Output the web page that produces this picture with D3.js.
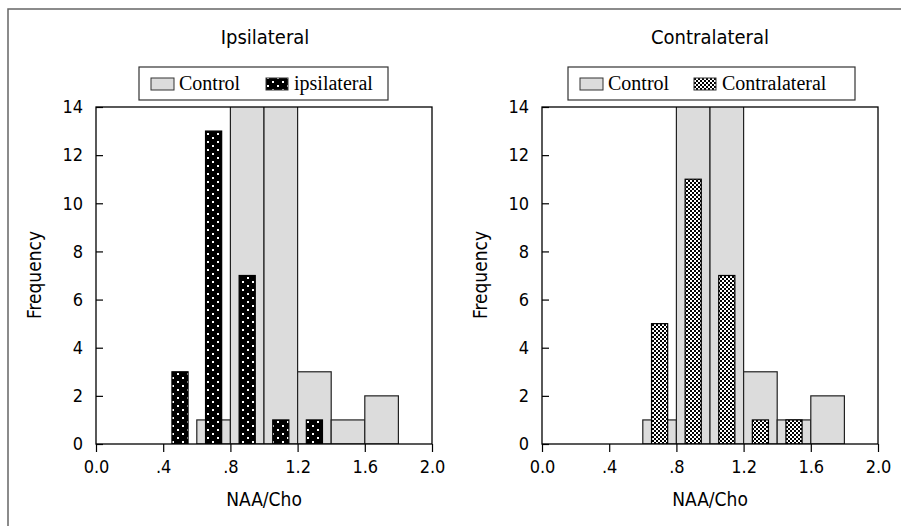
<style>
  body { margin: 0; }
</style>
<script src="https://d3js.org/d3.v7.min.js"></script>

<svg width = 901 height = 526></svg>

<script>

  // Bin edges (NAA/Cho) and control counts, same in both panels
  const controlBins = [0.6, 0.8, 1.0, 1.2, 1.4, 1.6];
  const controlCounts = [1, 16, 16, 3, 1, 2];

  // Patient bars (bar centres and counts)
  const ipsiCenters = [0.5, 0.7, 0.9, 1.1, 1.3];
  const ipsiCounts = [3, 13, 7, 1, 1];
  const contraCenters = [0.7, 0.9, 1.1, 1.3, 1.5];
  const contraCounts = [5, 11, 7, 1, 1];

  const xTicks = [0, 0.4, 0.8, 1.2, 1.6, 2.0];
  const xTickLabels = ['0.0', '.4', '.8', '1.2', '1.6', '2.0'];
  const yTicks = [0, 2, 4, 6, 8, 10, 12, 14];

  const sansFont = '"DejaVu Sans Condensed", "Liberation Sans Narrow", sans-serif';
  const serifFont = '"Liberation Serif", "DejaVu Serif", serif';

  const svg = d3.select('svg');

  svg.append('rect')
    .attr('width', 901)
    .attr('height', 526)
    .style('fill', 'white');

  // patterns
  const defs = svg.append('defs');

  const dots = defs.append('pattern')
    .attr('id', 'dots')
    .attr('patternUnits', 'userSpaceOnUse')
    .attr('width', 10)
    .attr('height', 8);
  dots.append('rect').attr('width', 10).attr('height', 8).style('fill', 'black');
  dots.append('rect').attr('x', 2).attr('y', 1).attr('width', 2).attr('height', 2).style('fill', 'white');
  dots.append('rect').attr('x', 7).attr('y', 5).attr('width', 2).attr('height', 2).style('fill', 'white');

  const checks = defs.append('pattern')
    .attr('id', 'checks')
    .attr('patternUnits', 'userSpaceOnUse')
    .attr('width', 4)
    .attr('height', 4);
  checks.append('rect').attr('width', 4).attr('height', 4).style('fill', 'white');
  checks.append('rect').attr('width', 2).attr('height', 2).style('fill', 'black');
  checks.append('rect').attr('x', 2).attr('y', 2).attr('width', 2).attr('height', 2).style('fill', 'black');

  // outer frame (left and top edge)
  svg.append('path')
    .attr('d', 'M8,526 V9 H901')
    .style('fill', 'none')
    .style('stroke', '#666')
    .style('stroke-width', 1.5);

  function drawPanel(opts) {
    const x = d3.scaleLinear().domain([0, 2]).range([opts.left, opts.right]);
    const y = d3.scaleLinear().domain([0, 14]).range([444, 107]);
    const g = svg.append('g');

    g.append('clipPath')
      .attr('id', opts.id + '-clip')
      .append('rect')
      .attr('x', opts.left)
      .attr('y', y(14))
      .attr('width', opts.right - opts.left)
      .attr('height', y(0) - y(14));

    const bars = g.append('g').attr('clip-path', 'url(#' + opts.id + '-clip)');

    // control bars
    bars.selectAll('.ctrl')
      .data(controlBins)
      .join('rect')
      .attr('x', (d) => x(d))
      .attr('width', x(0.2) - x(0))
      .attr('y', (d, i) => y(controlCounts[i]))
      .attr('height', (d, i) => y(0) - y(controlCounts[i]))
      .style('fill', '#dcdcdc')
      .style('stroke', '#222')
      .style('stroke-width', 1.2);

    // patient bars
    bars.selectAll('.pat')
      .data(opts.centers)
      .join('rect')
      .attr('x', (d) => x(d - 0.048))
      .attr('width', x(0.096) - x(0))
      .attr('y', (d, i) => y(opts.counts[i]))
      .attr('height', (d, i) => y(0) - y(opts.counts[i]))
      .style('fill', 'url(#' + opts.pattern + ')')
      .style('stroke', 'black')
      .style('stroke-width', 1.2);

    // frame
    g.append('rect')
      .attr('x', opts.left)
      .attr('y', y(14))
      .attr('width', opts.right - opts.left)
      .attr('height', y(0) - y(14))
      .style('fill', 'none')
      .style('stroke', 'black')
      .style('stroke-width', 1.3);

    // x axis, ticks pointing down
    const xAxis = g.append('g')
      .attr('transform', 'translate(0,' + y(0) + ')')
      .call(d3.axisBottom(x).tickValues(xTicks)
        .tickFormat((d, i) => xTickLabels[i])
        .tickSize(8).tickPadding(8));
    xAxis.select('.domain').remove();
    xAxis.selectAll('text')
      .style('font-family', sansFont)
      .style('font-size', '18px')
      .style('fill', 'black');
    xAxis.selectAll('line').style('stroke', 'black').style('stroke-width', 1.2);

    // y axis, ticks pointing inwards
    const yAxis = g.append('g')
      .attr('transform', 'translate(' + opts.left + ',0)')
      .call(d3.axisLeft(y).tickValues(yTicks).tickSize(-7).tickPadding(13));
    yAxis.select('.domain').remove();
    yAxis.selectAll('text')
      .style('font-family', sansFont)
      .style('font-size', '18px')
      .style('fill', 'black');
    yAxis.selectAll('line').style('stroke', 'black').style('stroke-width', 1.2);

    // axis titles
    g.append('text')
      .attr('x', (opts.left + opts.right) / 2)
      .attr('y', 506)
      .attr('text-anchor', 'middle')
      .style('font-family', sansFont)
      .style('font-size', '19px')
      .text('NAA/Cho');

    g.append('text')
      .attr('transform', 'translate(' + (opts.left - 55) + ',' + 275 + ') rotate(-90)')
      .attr('text-anchor', 'middle')
      .style('font-family', sansFont)
      .style('font-size', '19px')
      .text('Frequency');

    // panel title
    g.append('text')
      .attr('x', opts.titleX)
      .attr('y', 44)
      .attr('text-anchor', 'middle')
      .style('font-family', sansFont)
      .style('font-size', '20px')
      .text(opts.title);

    // legend
    const lg = g.append('g');
    lg.append('rect')
      .attr('x', opts.legX)
      .attr('y', 67)
      .attr('width', opts.legW)
      .attr('height', 33)
      .style('fill', 'white')
      .style('stroke', '#333')
      .style('stroke-width', 1.2);
    lg.append('rect')
      .attr('x', opts.legX + 12)
      .attr('y', 78)
      .attr('width', 23)
      .attr('height', 12)
      .style('fill', '#dcdcdc')
      .style('stroke', '#333');
    lg.append('text')
      .attr('x', opts.legX + 40)
      .attr('y', 90)
      .style('font-family', serifFont)
      .style('font-size', '20px')
      .text('Control');
    lg.append('rect')
      .attr('x', opts.legX + opts.item2)
      .attr('y', 78)
      .attr('width', 22)
      .attr('height', 12)
      .style('fill', 'url(#' + opts.pattern + ')')
      .style('stroke', '#333');
    lg.append('text')
      .attr('x', opts.legX + opts.item2 + 28)
      .attr('y', 90)
      .style('font-family', serifFont)
      .style('font-size', '20px')
      .text(opts.legLabel);
  }

  drawPanel({
    id: 'ipsi', left: 96, right: 432, centers: ipsiCenters, counts: ipsiCounts,
    pattern: 'dots', title: 'Ipsilateral', titleX: 265,
    legX: 139, legW: 249, item2: 127, legLabel: 'ipsilateral'
  });

  drawPanel({
    id: 'contra', left: 542, right: 878, centers: contraCenters, counts: contraCounts,
    pattern: 'checks', title: 'Contralateral', titleX: 710,
    legX: 568, legW: 287, item2: 126, legLabel: 'Contralateral'
  });

</script>
